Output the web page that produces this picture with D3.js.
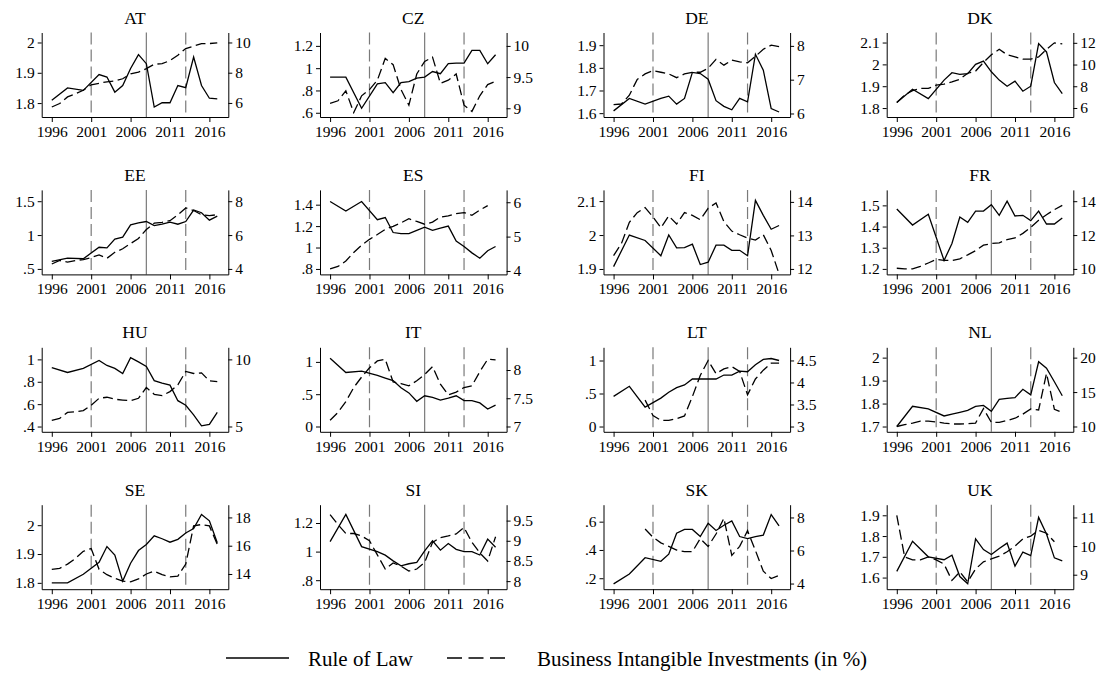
<!DOCTYPE html>
<html>
<head>
<meta charset="utf-8">
<script src="https://cdn.jsdelivr.net/npm/d3@7"></script>
<style>
  body { margin: 0; background: #fff; }
  svg { display: block; font-family: "Liberation Serif", "Times New Roman", serif; }
  .domain, .tick line { stroke: #000; stroke-width: 1; }
</style>
</head>
<body>
<svg id="chart" width="1102" height="677"></svg>
<script>
// ---- data ----
const countries = ["AT", "CZ", "DE", "DK", "EE", "ES", "FI", "FR",
                   "HU", "IT", "LT", "NL", "SE", "SI", "SK", "UK"];
const years = [1996, 1997, 1998, 1999, 2000, 2001, 2002, 2003, 2004, 2005, 2006,
               2007, 2008, 2009, 2010, 2011, 2012, 2013, 2014, 2015, 2016, 2017];
const xTicks = [1996, 2001, 2006, 2011, 2016];
const refYears = [2001, 2008, 2013];

// Rule of Law (left axis); WGI is biennial before 2002
const rolAT = [1.809, null, 1.85, null, 1.842, null, 1.894, 1.886, 1.836, 1.858, 1.914, 1.96, 1.93, 1.787, 1.801, 1.801, 1.858, 1.851, 1.952, 1.858, 1.816, 1.814];
const rolCZ = [.92, null, .92, null, .64, null, .86, .87, .78, .87, .88, .91, .92, .97, .95, 1.04, 1.045, 1.045, 1.16, 1.16, 1.04, 1.12];
const rolDE = [1.61, null, 1.665, null, 1.64, null, 1.665, 1.675, 1.64, 1.665, 1.78, 1.775, 1.75, 1.655, 1.63, 1.615, 1.665, 1.65, 1.86, 1.79, 1.62, 1.605];
const rolDK = [1.825, null, 1.886, null, 1.843, null, 1.928, 1.962, 1.954, 1.958, 2.0, 2.015, 1.966, 1.928, 1.9, 1.923, 1.877, 1.9, 2.095, 2.057, 1.917, 1.866];
const rolEE = [.61, null, .66, null, .65, null, .82, .81, .94, .97, 1.15, 1.18, 1.2, 1.14, 1.16, 1.19, 1.16, 1.2, 1.37, 1.33, 1.22, 1.28];
const rolES = [1.43, null, 1.34, null, 1.43, null, 1.26, 1.28, 1.14, 1.13, 1.13, 1.16, 1.19, 1.16, 1.18, 1.2, 1.06, 1.01, .95, .9, .97, 1.01];
const rolFI = [1.907, null, 2.0, null, 1.984, null, 1.939, 2.0, 1.962, 1.963, 1.973, 1.913, 1.92, 1.97, 1.97, 1.955, 1.955, 1.939, 2.102, 2.058, 2.017, 2.028];
const rolFR = [1.483, null, 1.407, null, 1.458, null, 1.24, 1.32, 1.445, 1.42, 1.473, 1.473, 1.503, 1.453, 1.52, 1.45, 1.453, 1.428, 1.473, 1.412, 1.412, 1.44];
const rolHU = [.927, null, .883, null, .92, null, .99, .946, .92, .874, 1.016, .978, .937, .81, .788, .77, .631, .59, .505, .406, .42, .527];
const rolIT = [1.055, null, .836, null, .858, null, .79, .75, .71, .6, .52, .39, .475, .45, .41, .44, .475, .4, .4, .365, .27, .33];
const rolLT = [.457, null, .61, null, .294, null, .43, .52, .59, .63, .72, .72, .72, .72, .78, .78, .84, .83, .935, 1.016, 1.03, 1.0];
const rolNL = [1.70, null, 1.788, null, 1.777, null, 1.746, 1.754, 1.762, 1.77, 1.788, 1.792, 1.766, 1.818, 1.823, 1.826, 1.862, 1.838, 1.982, 1.954, 1.895, 1.834];
const rolSE = [1.80, null, 1.80, null, 1.83, null, 1.871, 1.926, 1.896, 1.806, 1.868, 1.912, 1.933, 1.963, 1.953, 1.941, 1.951, 1.973, 1.988, 2.037, 2.015, 1.939];
const rolSI = [1.07, null, 1.26, null, 1.035, null, 1.0, .975, .935, .9, .915, .925, 1.005, 1.075, 1.01, 1.056, 1.016, 1.0, 1.0, .976, 1.087, 1.03];
const rolSK = [.16, null, .23, null, .345, null, .32, .37, .518, .545, .545, .495, .588, .538, .575, .605, .495, .48, .495, .505, .65, .57];
const rolUK = [1.63, null, 1.775, null, 1.70, null, 1.686, 1.708, 1.605, 1.57, 1.786, 1.735, 1.711, 1.74, 1.766, 1.655, 1.723, 1.706, 1.89, 1.81, 1.695, 1.68];

// Business intangible investments in % (right axis)
const biiAT = [5.73, 5.96, 6.4, 6.6, 6.84, 7.2, 7.3, 7.4, 7.45, 7.6, 7.93, 8.04, 8.27, 8.56, 8.6, 8.8, 9.16, 9.6, 9.76, 9.93, 9.93, 9.98];
const biiCZ = [9.08, 9.12, 9.28, 8.93, 9.2, 9.3, 9.45, 9.8, 9.7, 9.3, 9.05, 9.55, 9.75, 9.82, 9.4, 9.45, 9.55, 9.05, 8.95, 9.2, 9.38, 9.43];
const biiDE = [6.26, 6.28, 6.54, 7.01, 7.17, 7.27, 7.22, 7.17, 7.06, 7.17, 7.22, 7.22, 7.34, 7.6, 7.43, 7.58, 7.53, 7.5, 7.69, 7.9, 8.02, 7.98];
const biiDK = [6.5, 7.2, 7.6, 7.8, 7.8, 8.1, 8.2, 8.4, 8.65, 9.2, 9.4, 10.2, 10.9, 11.4, 10.9, 10.7, 10.5, 10.5, 10.7, 11.4, 12.0, 11.9];
const biiEE = [4.29, 4.5, 4.4, 4.5, 4.55, 4.67, 4.83, 4.63, 4.98, 5.19, 5.5, 5.8, 6.33, 6.7, 6.75, 6.85, 7.2, 7.6, 7.45, 7.2, 7.15, 7.2];
const biiES = [4.06, 4.13, 4.29, 4.54, 4.75, 4.92, 5.06, 5.21, 5.3, 5.4, 5.52, 5.44, 5.36, 5.42, 5.57, 5.6, 5.67, 5.7, 5.62, 5.77, 5.9, null];
const biiFI = [12.4, 12.76, 13.39, 13.68, 13.83, 13.55, 13.23, 13.58, 13.34, 13.68, 13.6, 13.47, 13.81, 13.97, 13.41, 13.13, 13.02, 12.92, 12.86, 13.02, 12.55, 11.85];
const biiFR = [10.04, 10.0, 10.0, 10.15, 10.35, 10.56, 10.5, 10.5, 10.6, 10.83, 11.08, 11.4, 11.5, 11.54, 11.73, 11.83, 12.1, 12.46, 12.88, 13.2, 13.5, 13.75];
const biiHU = [5.45, 5.6, 6.05, 6.1, 6.18, 6.58, 7.1, 7.18, 7.03, 6.97, 6.92, 7.1, 7.9, 7.4, 7.3, 7.6, 8.1, 9.1, 8.95, 9.0, 8.4, 8.35];
const biiIT = [7.11, 7.25, 7.44, 7.69, 7.875, 8.04, 8.16, 8.19, 7.79, 7.76, 7.72, 7.81, 7.92, 8.06, 7.75, 7.56, 7.61, 7.69, 7.72, 7.97, 8.19, 8.18];
const biiLT = [null, null, null, null, 3.6, 3.25, 3.14, 3.14, 3.18, 3.24, 3.68, 4.16, 4.5, 4.2, 4.31, 4.36, 4.25, 3.72, 4.08, 4.28, 4.44, 4.44];
const biiNL = [10.0, 10.26, 10.5, 10.77, 10.77, 10.67, 10.5, 10.36, 10.36, 10.4, 10.5, 12.6, 10.6, 10.6, 10.87, 11.2, 11.8, 12.56, 12.4, 17.7, 12.5, 12.05];
const biiSE = [14.33, 14.4, 14.7, 15.1, 15.6, 15.8, 14.33, 13.95, 13.7, 13.5, 13.45, 13.65, 14.0, 14.2, 13.95, 13.8, 13.85, 14.7, 17.4, 17.5, 17.4, 16.1];
const biiSI = [9.65, 9.4, 9.18, 9.18, 9.12, 9.0, 8.65, 8.3, 8.45, 8.37, 8.25, 8.3, 8.46, 8.96, 9.08, 9.12, 9.17, 9.33, 8.96, 8.7, 8.5, 9.1];
const biiSK = [null, null, null, null, 7.3, 6.8, 6.46, 6.25, 6.03, 5.93, 5.93, 6.72, 6.25, 7.0, 7.95, 5.7, 6.25, 7.2, 6.0, 4.75, 4.3, 4.5];
const biiUK = [11.07, 9.62, 9.52, 9.52, 9.62, 9.52, 9.37, 8.8, 9.1, 8.75, 9.2, 9.45, 9.55, 9.65, 9.8, 10.0, 10.25, 10.35, 10.55, 10.45, 10.15, null];

const ruleOfLaw = [rolAT, rolCZ, rolDE, rolDK, rolEE, rolES, rolFI, rolFR,
                   rolHU, rolIT, rolLT, rolNL, rolSE, rolSI, rolSK, rolUK];
const intangibles = [biiAT, biiCZ, biiDE, biiDK, biiEE, biiES, biiFI, biiFR,
                     biiHU, biiIT, biiLT, biiNL, biiSE, biiSI, biiSK, biiUK];

// axis ranges [bottom, top] and tick labels, per country
const leftRange = [[1.754, 2.033], [.562, 1.32], [1.583, 1.956], [1.759, 2.146],
                   [.419, 1.667], [.749, 1.538], [1.884, 2.133], [1.174, 1.573],
                   [.353, 1.108], [-.082, 1.226], [-.08, 1.2], [1.677, 2.045],
                   [1.778, 2.071], [.737, 1.328], [.1225, .72], [1.544, 1.951]];
const rightRange = [[5.07, 10.66], [8.86, 10.215], [5.896, 8.396], [5.17, 12.95],
                    [3.677, 8.667], [3.9, 6.359], [11.837, 14.358], [9.677, 14.667],
                    [4.605, 10.9], [6.906, 8.402], [2.88, 4.799], [9.23, 21.5],
                    [12.925, 18.9], [7.8, 9.894], [3.658, 8.772], [8.494, 11.446]];
const leftTicks = [[1.8, 1.9, 2], [.6, .8, 1, 1.2], [1.6, 1.7, 1.8, 1.9], [1.8, 1.9, 2, 2.1],
                   [.5, 1, 1.5], [.8, 1, 1.2, 1.4], [1.9, 2, 2.1], [1.2, 1.3, 1.4, 1.5],
                   [.4, .6, .8, 1], [0, .5, 1], [0, .5, 1], [1.7, 1.8, 1.9, 2],
                   [1.8, 1.9, 2], [.8, 1, 1.2], [.2, .4, .6], [1.6, 1.7, 1.8, 1.9]];
const rightTicks = [[6, 8, 10], [9, 9.5, 10], [6, 7, 8], [6, 8, 10, 12],
                    [4, 6, 8], [4, 5, 6], [12, 13, 14], [10, 12, 14],
                    [5, 10], [7, 7.5, 8], [3, 3.5, 4, 4.5], [10, 15, 20],
                    [14, 16, 18], [8, 8.5, 9, 9.5], [4, 6, 8], [9, 10, 11]];

const legendLabels = ["Rule of Law", "Business Intangible Investments (in %)"];

// ---- layout ----
const serif = '"Liberation Serif", "Times New Roman", serif';
const colLeft = [41.7, 320, 603.5, 886.7];
const plotW = 186.6;
const plotH = 84.5;
const rowTop = r => 32.5 + r * 157.4;

// Stata style: ".5" instead of "0.5"
const fmt = v => String(v).replace(/^0\./, ".").replace(/^-0\./, "-.");

// d3 axes put a sans-serif font on their group, so restyle after drawing
function styleAxis(sel) {
  sel.attr("font-family", null).attr("font-size", null);
  sel.selectAll(".tick text")
    .style("font-family", serif)
    .style("font-size", "15.5px")
    .attr("fill", "#000");
}

const svg = d3.select("#chart");

countries.forEach((name, i) => {
  const col = i % 4, row = Math.floor(i / 4);
  const left = colLeft[col], top = rowTop(row);

  const x = d3.scaleLinear().domain([1994.72, 2018.4]).range([left, left + plotW]);
  const yL = d3.scaleLinear().domain(leftRange[i]).range([top + plotH, top]);
  const yR = d3.scaleLinear().domain(rightRange[i]).range([top + plotH, top]);

  const g = svg.append("g").attr("class", "panel");

  // title
  g.append("text")
    .attr("x", left + plotW / 2)
    .attr("y", top - 9)
    .attr("text-anchor", "middle")
    .style("font-family", serif)
    .style("font-size", "17.5px")
    .text(name);

  // reference years
  g.selectAll(".ref")
    .data(refYears)
    .enter()
    .append("line")
    .attr("class", "ref")
    .attr("x1", d => x(d)).attr("x2", d => x(d))
    .attr("y1", top).attr("y2", top + plotH)
    .attr("stroke", "#7a7a7a")
    .attr("stroke-width", 1.2)
    .attr("stroke-dasharray", d => (d === 2008 ? null : "12,5"));

  // axes
  g.append("g")
    .attr("transform", `translate(${left},0)`)
    .call(d3.axisLeft(yL).tickValues(leftTicks[i]).tickFormat(fmt).tickSize(4).tickSizeOuter(0).tickPadding(3))
    .call(styleAxis);
  g.append("g")
    .attr("transform", `translate(${left + plotW},0)`)
    .call(d3.axisRight(yR).tickValues(rightTicks[i]).tickFormat(fmt).tickSize(4).tickSizeOuter(0).tickPadding(3))
    .call(styleAxis);
  g.append("g")
    .attr("transform", `translate(0,${top + plotH})`)
    .call(d3.axisBottom(x).tickValues(xTicks).tickFormat(d3.format("d")).tickSize(5).tickSizeOuter(0).tickPadding(4))
    .call(styleAxis);

  // series
  const rol = years.map((yr, k) => ({ year: yr, v: ruleOfLaw[i][k] })).filter(d => d.v != null);
  const bii = years.map((yr, k) => ({ year: yr, v: intangibles[i][k] })).filter(d => d.v != null);

  g.append("path")
    .datum(bii)
    .attr("fill", "none")
    .attr("stroke", "#000")
    .attr("stroke-width", 1.3)
    .attr("stroke-dasharray", "10,4.5")
    .attr("d", d3.line().x(d => x(d.year)).y(d => yR(d.v)));

  g.append("path")
    .datum(rol)
    .attr("fill", "none")
    .attr("stroke", "#000")
    .attr("stroke-width", 1.3)
    .attr("d", d3.line().x(d => x(d.year)).y(d => yL(d.v)));
});

// ---- legend ----
const legend = svg.append("g").attr("class", "legend").style("font-family", serif);
legend.append("line")
  .attr("x1", 226).attr("x2", 289).attr("y1", 658).attr("y2", 658)
  .attr("stroke", "#000").attr("stroke-width", 1.6);
legend.append("text")
  .attr("x", 308).attr("y", 666)
  .style("font-size", "21px")
  .text(legendLabels[0]);
legend.append("line")
  .attr("x1", 447).attr("x2", 506).attr("y1", 658).attr("y2", 658)
  .attr("stroke", "#000").attr("stroke-width", 1.6)
  .attr("stroke-dasharray", "15,6.5");
legend.append("text")
  .attr("x", 537).attr("y", 666)
  .style("font-size", "21px")
  .text(legendLabels[1]);
</script>
</body>
</html>
